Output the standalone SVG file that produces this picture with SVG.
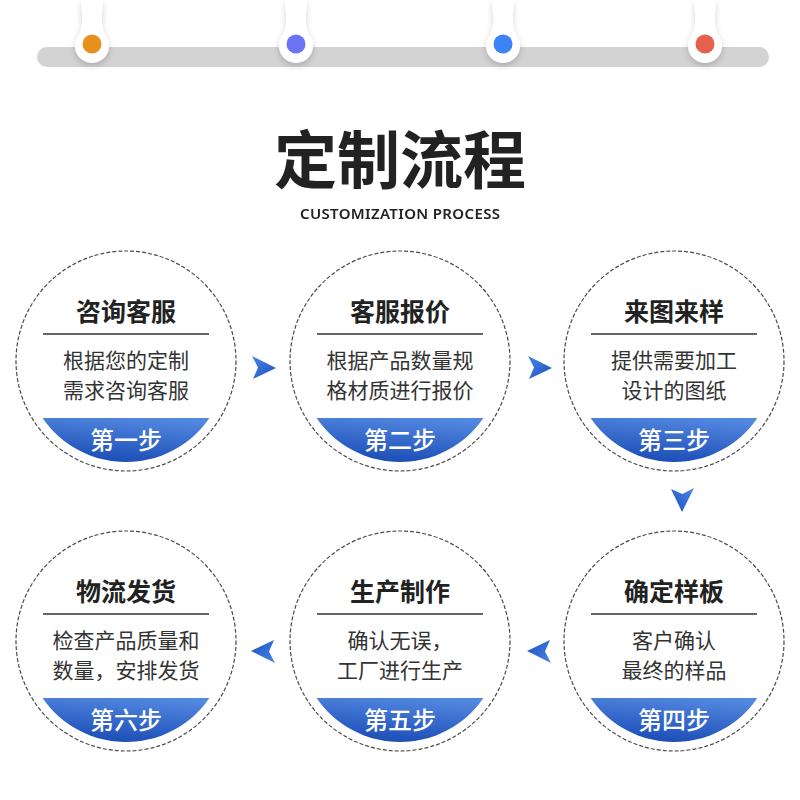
<svg xmlns="http://www.w3.org/2000/svg" width="800" height="800" viewBox="0 0 800 800">
<defs>
<linearGradient id="band" x1="0.7" y1="0" x2="0.4" y2="1">
<stop offset="0" stop-color="#5388e0"/>
<stop offset="1" stop-color="#1b4db6"/>
</linearGradient>
<linearGradient id="arr" x1="0" y1="0" x2="1" y2="1">
<stop offset="0" stop-color="#4a86e6"/>
<stop offset="1" stop-color="#1c4fc0"/>
</linearGradient>
<filter id="sh" x="-50%" y="-20%" width="200%" height="160%">
<feDropShadow dx="0" dy="3" stdDeviation="3" flood-color="#000" flood-opacity="0.18"/>
</filter>
<path id="arrow" d="M-12,-12 L12,0 L-11,11 L-6,-0.5 Z" fill="url(#arr)"/>
<path id="pin" d="M-11,0 L11,0 C10,14 8,24 13,35 A17,17 0 1 1 -13,35 C-8,24 -10,14 -11,0 Z" fill="#fff"/>
</defs>
<style>
.ring{fill:#fff;stroke:#4a4a4a;stroke-width:1.2;stroke-dasharray:4 2}
.rule{stroke:#333;stroke-width:1.5}
.band{fill:url(#band)}
.h{font-family:"Noto Sans CJK SC","Noto Sans",sans-serif;font-size:25px;font-weight:700;fill:#222;text-anchor:middle;dominant-baseline:central}
.b{font-family:"Noto Sans CJK SC","Noto Sans",sans-serif;font-size:21px;font-weight:400;fill:#333;text-anchor:middle;dominant-baseline:central}
.s{font-family:"Noto Sans CJK SC","Noto Sans",sans-serif;font-size:24px;font-weight:500;fill:#fff;text-anchor:middle;dominant-baseline:central}
</style>
<rect width="800" height="800" fill="#fff"/>
<g id="topbar">
<rect x="37" y="47" width="732" height="20" rx="10" fill="#d3d3d3"/>
<g filter="url(#sh)">
<use href="#pin" transform="translate(92,0)"/>
<use href="#pin" transform="translate(296,0)"/>
<use href="#pin" transform="translate(503,0)"/>
<use href="#pin" transform="translate(705,0)"/>
</g>
<circle cx="92" cy="44" r="9.5" fill="#e8921e"/>
<circle cx="296" cy="44" r="9.5" fill="#6b74f5"/>
<circle cx="503" cy="44" r="9.5" fill="#3a84f5"/>
<circle cx="705" cy="44" r="9.5" fill="#e5604d"/>
</g>
<g id="title">
<text x="400" y="155" font-family="'Noto Sans CJK SC',sans-serif" font-size="63" font-weight="700" fill="#222" text-anchor="middle" dominant-baseline="central">定制流程</text>
<text x="400" y="213" font-family="'Noto Sans','Noto Sans CJK SC',sans-serif" font-size="15" font-weight="600" fill="#222" text-anchor="middle" dominant-baseline="central" textLength="200">CUSTOMIZATION PROCESS</text>
</g>
<g id="node1" transform="translate(126,361)">
<circle class="ring" r="110"/>
<path class="band" d="M-83.4,57 L83.4,57 A101,101 0 0 1 -83.4,57 Z"/>
<text class="h" y="-51">咨询客服</text>
<line class="rule" x1="-83" y1="-27" x2="83" y2="-27"/>
<text class="b" y="-2">根据您的定制</text>
<text class="b" y="28">需求咨询客服</text>
<text class="s" y="77">第一步</text>
</g>
<g id="node2" transform="translate(400,361)">
<circle class="ring" r="110"/>
<path class="band" d="M-83.4,57 L83.4,57 A101,101 0 0 1 -83.4,57 Z"/>
<text class="h" y="-51">客服报价</text>
<line class="rule" x1="-83" y1="-27" x2="83" y2="-27"/>
<text class="b" y="-2">根据产品数量规</text>
<text class="b" y="28">格材质进行报价</text>
<text class="s" y="77">第二步</text>
</g>
<g id="node3" transform="translate(674,361)">
<circle class="ring" r="110"/>
<path class="band" d="M-83.4,57 L83.4,57 A101,101 0 0 1 -83.4,57 Z"/>
<text class="h" y="-51">来图来样</text>
<line class="rule" x1="-83" y1="-27" x2="83" y2="-27"/>
<text class="b" y="-2">提供需要加工</text>
<text class="b" y="28">设计的图纸</text>
<text class="s" y="77">第三步</text>
</g>
<g id="node4" transform="translate(674,641)">
<circle class="ring" r="110"/>
<path class="band" d="M-83.4,57 L83.4,57 A101,101 0 0 1 -83.4,57 Z"/>
<text class="h" y="-51">确定样板</text>
<line class="rule" x1="-83" y1="-27" x2="83" y2="-27"/>
<text class="b" y="-2">客户确认</text>
<text class="b" y="28">最终的样品</text>
<text class="s" y="77">第四步</text>
</g>
<g id="node5" transform="translate(400,641)">
<circle class="ring" r="110"/>
<path class="band" d="M-83.4,57 L83.4,57 A101,101 0 0 1 -83.4,57 Z"/>
<text class="h" y="-51">生产制作</text>
<line class="rule" x1="-83" y1="-27" x2="83" y2="-27"/>
<text class="b" y="-2">确认无误，</text>
<text class="b" y="28">工厂进行生产</text>
<text class="s" y="77">第五步</text>
</g>
<g id="node6" transform="translate(126,641)">
<circle class="ring" r="110"/>
<path class="band" d="M-83.4,57 L83.4,57 A101,101 0 0 1 -83.4,57 Z"/>
<text class="h" y="-51">物流发货</text>
<line class="rule" x1="-83" y1="-27" x2="83" y2="-27"/>
<text class="b" y="-2">检查产品质量和</text>
<text class="b" y="28">数量，安排发货</text>
<text class="s" y="77">第六步</text>
</g>
<g id="connectors">
<use href="#arrow" transform="translate(264,368)"/>
<use href="#arrow" transform="translate(540,368)"/>
<use href="#arrow" transform="translate(682,500) rotate(90)"/>
<use href="#arrow" transform="translate(539,651) rotate(180)"/>
<use href="#arrow" transform="translate(263,651) rotate(180)"/>
</g>
</svg>
